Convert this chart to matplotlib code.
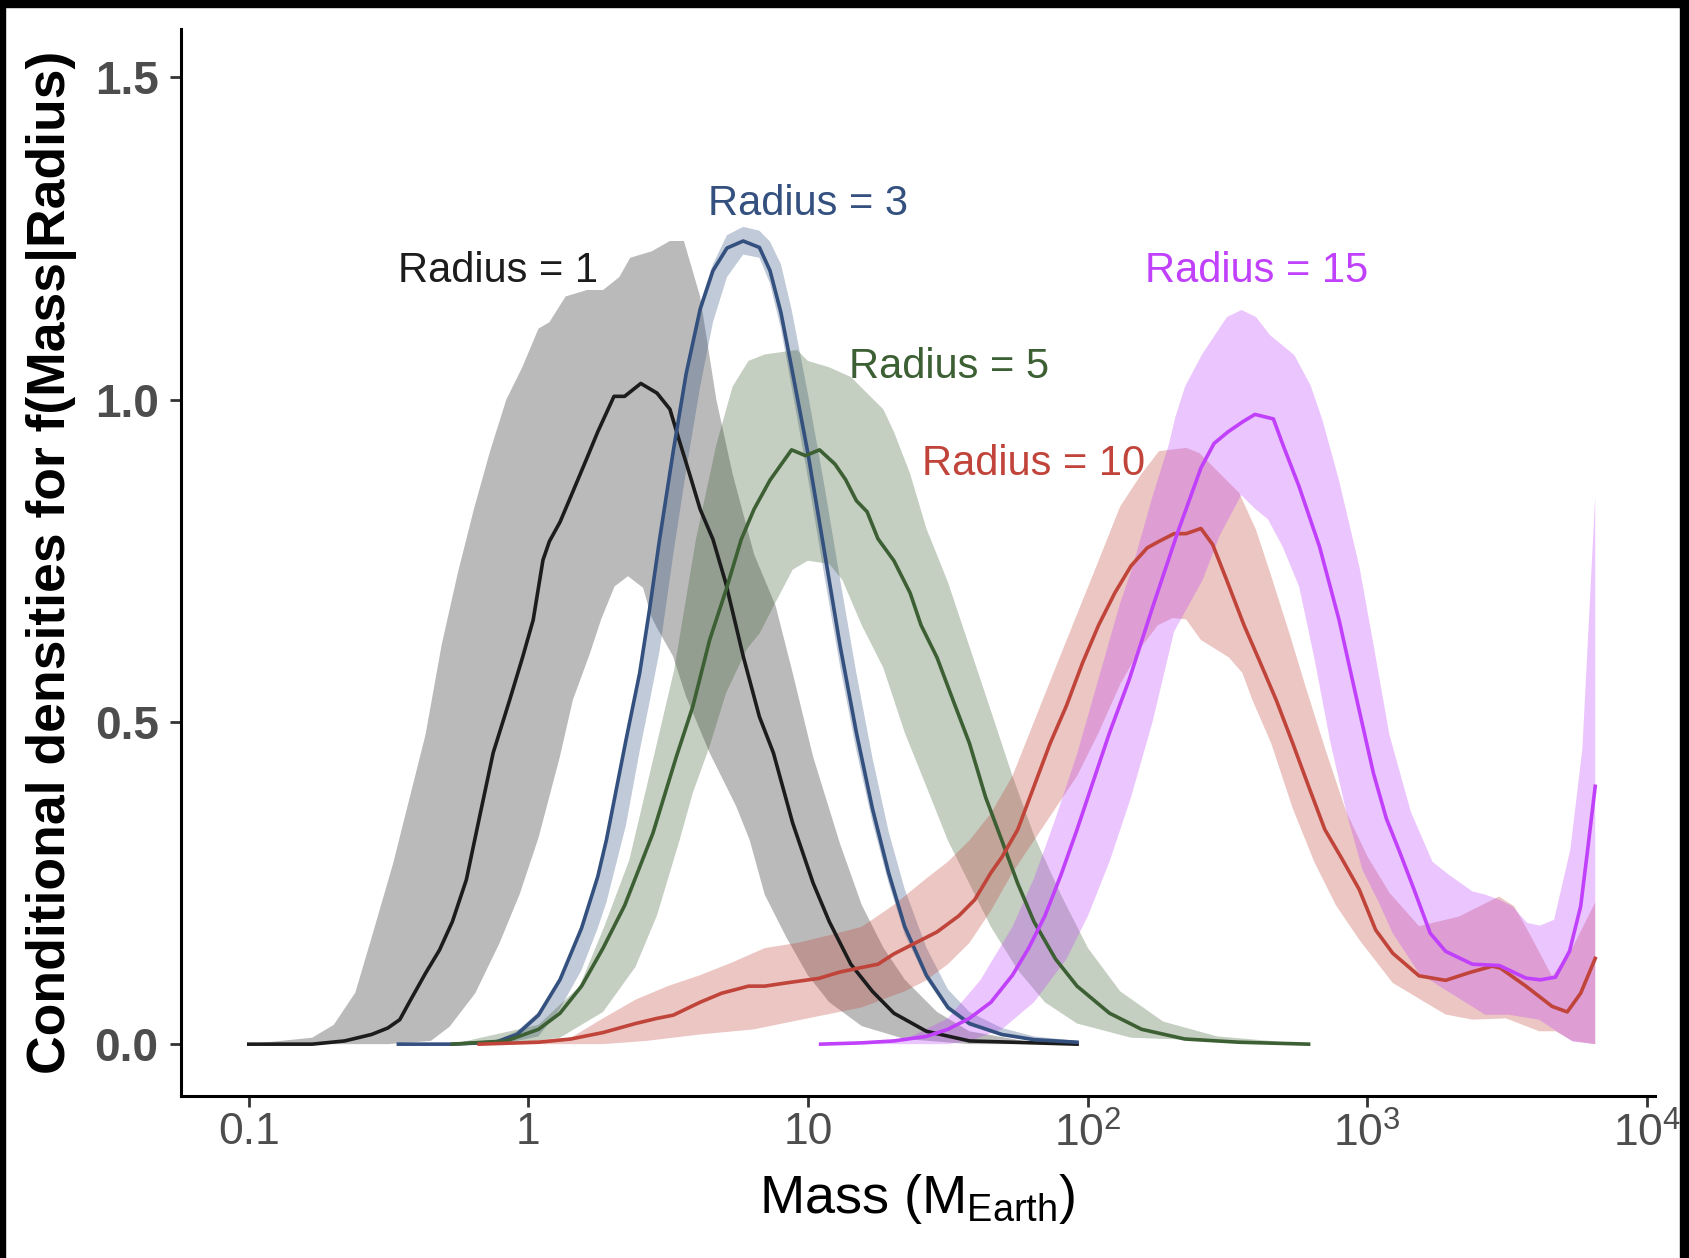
import numpy as np
import matplotlib
matplotlib.use("Agg")
import matplotlib.pyplot as plt
from matplotlib.patches import Rectangle

# ---- data (log10 of mass, density) ----
# Radius = 1
r1_lx = [-1.0, -0.773, -0.657, -0.561, -0.503, -0.460, -0.426, -0.368, -0.318, -0.272, -0.222, -0.176,
         -0.126, -0.067, -0.021, 0.017, 0.052, 0.075, 0.113, 0.152, 0.210, 0.248, 0.306, 0.344,
         0.402, 0.460, 0.506, 0.537, 0.576, 0.614, 0.660, 0.706, 0.768, 0.826, 0.876, 0.945,
         1.018, 1.076, 1.153, 1.230, 1.307, 1.423, 1.577, 1.962]
r1_y = [0, 0, 0.005, 0.015, 0.025, 0.038, 0.065, 0.11, 0.146, 0.19, 0.255, 0.35,
        0.452, 0.534, 0.60, 0.658, 0.751, 0.78, 0.81, 0.85, 0.91, 0.95, 1.005, 1.005,
        1.025, 1.01, 0.985, 0.94, 0.885, 0.83, 0.783, 0.715, 0.602, 0.508, 0.452, 0.343,
        0.25, 0.19, 0.124, 0.082, 0.048, 0.02, 0.005, 0]
r1_up_lx = [-1.0, -0.773, -0.696, -0.619, -0.561, -0.484, -0.426, -0.368, -0.310, -0.253, -0.195, -0.137,
            -0.079, -0.022, 0.036, 0.075, 0.133, 0.210, 0.267, 0.325, 0.364, 0.441, 0.506, 0.556,
            0.614, 0.672, 0.730, 0.807, 0.884, 0.945, 1.018, 1.115, 1.192, 1.269, 1.346, 1.461,
            1.577, 1.770, 1.962]
r1_up = [0, 0.01, 0.03, 0.08, 0.165, 0.28, 0.38, 0.48, 0.62, 0.73, 0.83, 0.92,
         1.0, 1.05, 1.11, 1.12, 1.16, 1.17, 1.17, 1.19, 1.22, 1.23, 1.246, 1.246,
         1.16, 1.0, 0.885, 0.76, 0.68, 0.576, 0.446, 0.31, 0.216, 0.15, 0.10, 0.05,
         0.02, 0.005, 0]
r1_lo_lx = [-1.0, -0.503, -0.349, -0.282, -0.190, -0.103, -0.031, 0.036, 0.112, 0.159, 0.219, 0.261,
            0.308, 0.356, 0.410, 0.439, 0.457, 0.517, 0.564, 0.648, 0.743, 0.791, 0.845, 0.922,
            0.999, 1.076, 1.192, 1.346, 1.577, 1.962]
r1_lo = [0, 0, 0.005, 0.027, 0.079, 0.157, 0.233, 0.32, 0.445, 0.534, 0.605, 0.66,
         0.71, 0.726, 0.708, 0.664, 0.648, 0.602, 0.539, 0.452, 0.369, 0.317, 0.232, 0.166,
         0.107, 0.065, 0.028, 0.008, 0, 0]

# Radius = 3 (band shares the line's mass grid)
r3_lx = [-0.465, -0.272, -0.118, -0.041, 0.036, 0.113, 0.190, 0.248, 0.279, 0.349, 0.398, 0.433,
         0.469, 0.518, 0.564, 0.614, 0.660, 0.710, 0.768, 0.826, 0.864, 0.903, 0.941, 0.999,
         1.057, 1.115, 1.173, 1.230, 1.288, 1.346, 1.423, 1.500, 1.577, 1.693, 1.808, 1.962]
r3_y = [0, 0, 0.003, 0.015, 0.045, 0.10, 0.18, 0.26, 0.317, 0.472, 0.576, 0.674,
        0.783, 0.92, 1.04, 1.14, 1.20, 1.235, 1.246, 1.236, 1.20, 1.135, 1.05, 0.918,
        0.768, 0.617, 0.483, 0.366, 0.266, 0.182, 0.107, 0.057, 0.032, 0.015, 0.007, 0.003]
r3_up = [0, 0, 0.005, 0.02, 0.05, 0.105, 0.185, 0.265, 0.322, 0.478, 0.582, 0.68,
         0.79, 0.93, 1.05, 1.15, 1.21, 1.255, 1.268, 1.262, 1.245, 1.21, 1.14, 1.01,
         0.87, 0.72, 0.575, 0.445, 0.33, 0.24, 0.15, 0.085, 0.05, 0.025, 0.012, 0.005]
r3_lo = [0, 0, 0, 0.005, 0.012, 0.055, 0.115, 0.18, 0.22, 0.34, 0.455, 0.53,
         0.61, 0.76, 0.89, 1.02, 1.12, 1.19, 1.225, 1.22, 1.18, 1.11, 1.02, 0.88,
         0.73, 0.585, 0.455, 0.345, 0.25, 0.17, 0.10, 0.052, 0.028, 0.013, 0.006, 0.002]

# Radius = 5
r5_lx = [-0.272, -0.079, 0.036, 0.113, 0.190, 0.267, 0.344, 0.445, 0.529, 0.588, 0.648, 0.707,
         0.761, 0.807, 0.864, 0.941, 0.991, 1.041, 1.096, 1.134, 1.173, 1.211, 1.250, 1.307,
         1.365, 1.404, 1.461, 1.519, 1.577, 1.635, 1.693, 1.750, 1.808, 1.885, 1.962, 2.078,
         2.193, 2.347, 2.540, 2.790]
r5_y = [0, 0.005, 0.023, 0.048, 0.09, 0.149, 0.215, 0.327, 0.446, 0.524, 0.627, 0.705,
        0.783, 0.83, 0.875, 0.922, 0.913, 0.922, 0.90, 0.876, 0.843, 0.826, 0.784, 0.75,
        0.70, 0.65, 0.60, 0.533, 0.467, 0.383, 0.316, 0.249, 0.19, 0.132, 0.09, 0.048,
        0.023, 0.008, 0.003, 0]
r5_up_lx = [-0.272, 0.036, 0.182, 0.272, 0.361, 0.445, 0.521, 0.599, 0.672, 0.730, 0.787, 0.845,
            0.961, 0.999, 1.076, 1.153, 1.211, 1.269, 1.307, 1.365, 1.423, 1.500, 1.577, 1.654,
            1.731, 1.808, 1.904, 2.001, 2.116, 2.270, 2.463, 2.790]
r5_up = [0, 0.03, 0.089, 0.183, 0.286, 0.44, 0.58, 0.783, 0.93, 1.02, 1.06, 1.07,
         1.077, 1.06, 1.05, 1.035, 1.01, 0.985, 0.95, 0.885, 0.80, 0.717, 0.617, 0.517,
         0.416, 0.324, 0.232, 0.149, 0.082, 0.035, 0.012, 0]
r5_lo_lx = [-0.272, -0.079, 0.113, 0.267, 0.383, 0.460, 0.541, 0.588, 0.648, 0.707, 0.780, 0.828,
            0.876, 0.945, 0.999, 1.076, 1.123, 1.192, 1.269, 1.346, 1.423, 1.500, 1.577, 1.654,
            1.750, 1.847, 1.962, 2.155, 2.790]
r5_lo = [0, 0, 0.01, 0.05, 0.12, 0.2, 0.317, 0.39, 0.462, 0.545, 0.612, 0.638,
         0.679, 0.736, 0.75, 0.745, 0.72, 0.65, 0.584, 0.483, 0.40, 0.316, 0.249, 0.182,
         0.115, 0.065, 0.032, 0.01, 0]

# Radius = 10
r10_lx = [-0.176, 0.036, 0.152, 0.267, 0.383, 0.460, 0.518, 0.614, 0.691, 0.787, 0.845, 0.922,
          1.038, 1.115, 1.192, 1.250, 1.307, 1.384, 1.461, 1.539, 1.596, 1.654, 1.693, 1.750,
          1.808, 1.866, 1.924, 1.982, 2.039, 2.097, 2.155, 2.213, 2.255, 2.309, 2.352, 2.405,
          2.447, 2.497, 2.559, 2.617, 2.675, 2.733, 2.790, 2.848, 2.906, 2.971, 3.030, 3.091,
          3.185, 3.280, 3.365, 3.447, 3.476, 3.567, 3.661, 3.715, 3.763, 3.815]
r10_y = [0, 0.003, 0.008, 0.018, 0.032, 0.04, 0.045, 0.065, 0.079, 0.09, 0.09, 0.095,
         0.102, 0.112, 0.119, 0.124, 0.14, 0.157, 0.174, 0.199, 0.224, 0.266, 0.29, 0.333,
         0.40, 0.467, 0.525, 0.592, 0.65, 0.70, 0.742, 0.77, 0.78, 0.792, 0.792, 0.80,
         0.775, 0.72, 0.65, 0.592, 0.533, 0.467, 0.40, 0.333, 0.29, 0.24, 0.177, 0.141,
         0.106, 0.099, 0.111, 0.121, 0.118, 0.09, 0.0585, 0.05, 0.079, 0.133]
r10_up_lx = [-0.176, 0.152, 0.267, 0.383, 0.498, 0.614, 0.730, 0.845, 0.961, 1.076, 1.192, 1.307,
             1.423, 1.500, 1.577, 1.654, 1.731, 1.808, 1.885, 1.962, 2.039, 2.116, 2.193, 2.255,
             2.352, 2.400, 2.471, 2.542, 2.602, 2.661, 2.721, 2.779, 2.848, 2.925, 3.002, 3.079,
             3.185, 3.328, 3.471, 3.525, 3.579, 3.661, 3.734, 3.815]
r10_up = [0, 0.01, 0.04, 0.069, 0.09, 0.107, 0.127, 0.149, 0.157, 0.169, 0.182, 0.216,
          0.257, 0.283, 0.316, 0.358, 0.416, 0.50, 0.584, 0.667, 0.75, 0.834, 0.885, 0.92,
          0.925, 0.917, 0.886, 0.855, 0.798, 0.72, 0.638, 0.555, 0.46, 0.36, 0.29, 0.235,
          0.183, 0.198, 0.229, 0.214, 0.172, 0.105, 0.15, 0.22]
r10_lo_lx = [-0.176, 0.267, 0.421, 0.614, 0.807, 0.999, 1.192, 1.346, 1.423, 1.500, 1.577, 1.654,
             1.731, 1.808, 1.885, 1.962, 2.039, 2.116, 2.193, 2.251, 2.304, 2.352, 2.405, 2.505,
             2.553, 2.589, 2.656, 2.733, 2.810, 2.887, 2.971, 3.091, 3.210, 3.280, 3.376, 3.496,
             3.615, 3.673, 3.734, 3.815]
r10_lo = [0, 0, 0.005, 0.015, 0.023, 0.04, 0.057, 0.082, 0.099, 0.124, 0.157, 0.207,
          0.266, 0.316, 0.366, 0.416, 0.483, 0.558, 0.617, 0.65, 0.661, 0.659, 0.627, 0.60,
          0.576, 0.534, 0.467, 0.366, 0.283, 0.216, 0.162, 0.095, 0.064, 0.046, 0.038, 0.04,
          0.02, 0.02, 0.005, 0]

# Radius = 15
r15_lx = [1.045, 1.192, 1.307, 1.423, 1.500, 1.577, 1.654, 1.731, 1.789, 1.847, 1.904, 1.962,
          2.020, 2.078, 2.148, 2.233, 2.321, 2.405, 2.452, 2.502, 2.556, 2.598, 2.664, 2.698,
          2.756, 2.829, 2.899, 2.960, 3.022, 3.068, 3.114, 3.167, 3.225, 3.280, 3.376, 3.472,
          3.567, 3.619, 3.673, 3.723, 3.763, 3.788, 3.815]
r15_y = [0, 0.002, 0.005, 0.012, 0.023, 0.04, 0.065, 0.107, 0.149, 0.199, 0.262, 0.333,
         0.408, 0.483, 0.565, 0.679, 0.793, 0.894, 0.932, 0.95, 0.966, 0.977, 0.97, 0.93,
         0.865, 0.772, 0.658, 0.539, 0.42, 0.35, 0.30, 0.24, 0.172, 0.144, 0.124, 0.122,
         0.1025, 0.0998, 0.104, 0.144, 0.214, 0.302, 0.40]
r15_up_lx = [1.045, 1.346, 1.500, 1.616, 1.731, 1.808, 1.885, 1.962, 2.039, 2.116, 2.161, 2.232,
             2.290, 2.313, 2.348, 2.409, 2.498, 2.550, 2.602, 2.652, 2.739, 2.797, 2.839, 2.898,
             2.972, 3.022, 3.079, 3.156, 3.214, 3.233, 3.291, 3.376, 3.422, 3.472, 3.518, 3.572,
             3.618, 3.668, 3.726, 3.769, 3.815]
r15_up = [0, 0.007, 0.04, 0.099, 0.182, 0.257, 0.35, 0.45, 0.567, 0.684, 0.741, 0.85,
          0.93, 0.972, 1.02, 1.07, 1.128, 1.139, 1.128, 1.10, 1.069, 1.022, 0.969, 0.876,
          0.74, 0.62, 0.48, 0.36, 0.302, 0.283, 0.263, 0.237, 0.232, 0.224, 0.214, 0.188,
          0.184, 0.193, 0.302, 0.458, 0.85]
r15_lo_lx = [1.045, 1.500, 1.577, 1.693, 1.808, 1.924, 2.001, 2.078, 2.155, 2.232, 2.309, 2.411,
             2.471, 2.549, 2.595, 2.645, 2.697, 2.756, 2.810, 2.867, 2.925, 2.983, 3.041, 3.091,
             3.185, 3.280, 3.422, 3.506, 3.614, 3.734, 3.815]
r15_lo = [0, 0, 0.005, 0.023, 0.065, 0.132, 0.199, 0.283, 0.383, 0.50, 0.64, 0.72,
          0.788, 0.852, 0.832, 0.814, 0.772, 0.71, 0.60, 0.47, 0.36, 0.27, 0.22, 0.172,
          0.110, 0.084, 0.0456, 0.0456, 0.038, 0.004, 0]

labels = ["Radius = 1", "Radius = 3", "Radius = 5", "Radius = 10", "Radius = 15"]
label_mass = [0.78, 10.0, 31.9, 64.3, 403]
label_y = [1.20, 1.303, 1.05, 0.90, 1.20]

colors = ["#1c1c1c", "#33507f", "#3c5f33", "#c0443a", "#c040fb"]

series = [
    (r1_lx, r1_y, r1_up_lx, r1_up, r1_lo_lx, r1_lo),
    (r3_lx, r3_y, r3_lx, r3_up, r3_lx, r3_lo),
    (r5_lx, r5_y, r5_up_lx, r5_up, r5_lo_lx, r5_lo),
    (r10_lx, r10_y, r10_up_lx, r10_up, r10_lo_lx, r10_lo),
    (r15_lx, r15_y, r15_up_lx, r15_up, r15_lo_lx, r15_lo),
]

font = ["Liberation Sans", "DejaVu Sans"]
plt.rcParams["font.family"] = font
plt.rcParams["mathtext.fontset"] = "custom"
plt.rcParams["mathtext.rm"] = "Liberation Sans"

fig = plt.figure(figsize=(16.9, 12.58), dpi=100)
ax = fig.add_axes([0.107, 0.129, 0.872, 0.848])

# ribbons first, lines on top
for (lx, y, ulx, up, llx, lo), c in zip(series, colors):
    ulx = np.asarray(ulx)
    llx = np.asarray(llx)
    px = np.concatenate([10 ** ulx, 10 ** llx[::-1]])
    py = np.concatenate([up, lo[::-1]])
    ax.fill(px, py, color=c, alpha=0.3, lw=0)

for (lx, y, ulx, up, llx, lo), c in zip(series, colors):
    ax.plot(10 ** np.asarray(lx), y, color=c, lw=2.6)

for t, m, yy, c in zip(labels, label_mass, label_y, colors):
    ax.text(m, yy, t, color=c, fontsize=30, ha="center", va="center")

ax.set_xscale("log")
ax.set_xlim(10 ** -1.243, 10 ** 4.027)
ax.set_ylim(-0.08, 1.575)

ax.set_xticks([0.1, 1, 10, 100, 1000, 10000])
ax.set_xticklabels(["0.1", "1", "10", r"$\mathregular{10^2}$", r"$\mathregular{10^3}$",
                    r"$\mathregular{10^4}$"], fontsize=32, color="#4d4d4d")
ax.xaxis.set_minor_locator(matplotlib.ticker.NullLocator())
ax.set_yticks([0, 0.5, 1.0, 1.5])
ax.set_yticklabels(["0.0", "0.5", "1.0", "1.5"], fontsize=33, fontweight="bold", color="#4d4d4d")

ax.spines["top"].set_visible(False)
ax.spines["right"].set_visible(False)
ax.spines["left"].set_linewidth(2.2)
ax.spines["bottom"].set_linewidth(2.2)
ax.tick_params(axis="both", length=8, width=2, color="#333333")
ax.tick_params(axis="x", pad=4)
ax.tick_params(axis="y", pad=8)

ax.set_xlabel(r"Mass (M$_{\mathregular{Earth}}$)", fontsize=39, labelpad=12)
ax.set_ylabel("Conditional densities for f(Mass|Radius)", fontsize=38.5, fontweight="bold")
ax.yaxis.set_label_coords(-0.0705, 0.5)

# black frame around the picture (top, left, right)
fig.add_artist(Rectangle((0, 1 - 7 / 1258), 1, 7 / 1258, transform=fig.transFigure, color="black"))
fig.add_artist(Rectangle((0, 0), 5 / 1690, 1, transform=fig.transFigure, color="black"))
fig.add_artist(Rectangle((1 - 10 / 1690, 0), 10 / 1690, 1, transform=fig.transFigure, color="black"))

fig.savefig("out.png", dpi=100)
